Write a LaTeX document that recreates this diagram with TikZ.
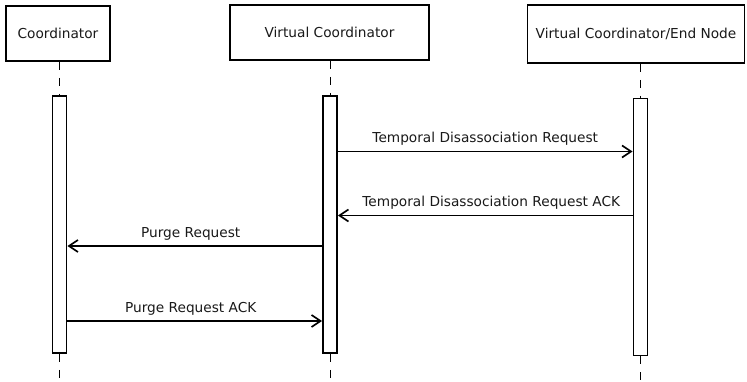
\documentclass[tikz,border=0pt]{standalone}
\usepackage{fontspec}
\setmainfont{DejaVu Sans}
\usetikzlibrary{arrows.meta}

\begin{document}
\begin{tikzpicture}[x=1pt,y=-1pt,
      actor/.style={draw,line width=1.9pt,inner sep=0pt,text=black!90,font=\fontsize{13.7}{16}\selectfont},
      bar/.style={draw,line width=1.8pt,fill=white,minimum width=14pt,inner sep=0pt},
      life/.style={line width=0.9pt,dash pattern=on 8pt off 8pt},
      msg/.style={line width=1.7pt,-{Straight Barb[length=9pt,width=12pt,line width=1.7pt]}},
      lbl/.style={font=\fontsize{13.7}{16}\selectfont,text=black!90,inner sep=2pt}]

    \useasboundingbox (0,0) rectangle (747,382);

    % participants
    \node[actor,minimum width=104pt,minimum height=55pt] (coord) at (58,33.5) {Coordinator};
    \node[actor,minimum width=199pt,minimum height=55pt] (vcoord) at (329.5,32.5) {Virtual Coordinator};
    \node[actor,minimum width=217pt,minimum height=58pt] (endn) at (636,34) {Virtual Coordinator/End Node};

    % activation bars
    \node[bar,minimum height=257pt] (cbar) at (59.5,224.5) {};
    \node[bar,minimum height=257pt] (vbar) at (330,224.5) {};
    \node[bar,minimum height=257pt] (ebar) at (640.5,227) {};

    \coordinate (bottom) at (0,382);
    \foreach \b/\a in {cbar/coord,vbar/vcoord,ebar/endn} {
      \draw[life] (\b.north |- \a.south) -- (\b.north);
      \draw[life] (\b.south) -- (\b.south |- bottom);
    }

    % messages
    \coordinate (m1) at (0,151.5);
    \coordinate (m2) at (0,215.5);
    \coordinate (m3) at (0,246);
    \coordinate (m4) at (0,321);

    \draw[msg] (vbar.east |- m1) -- (ebar.west |- m1)
      node[lbl,midway,above=3pt] {Temporal Disassociation Request};
    \draw[msg] (ebar.west |- m2) -- (vbar.east |- m2)
      node[lbl,midway,above=3pt,xshift=6pt] {Temporal Disassociation Request ACK};
    \draw[msg] (vbar.west |- m3) -- (cbar.east |- m3)
      node[lbl,midway,above=3pt,xshift=-4pt] {Purge Request};
    \draw[msg] (cbar.east |- m4) -- (vbar.west |- m4)
      node[lbl,midway,above=3pt,xshift=-4pt] {Purge Request ACK};
  \end{tikzpicture}
\end{document}
